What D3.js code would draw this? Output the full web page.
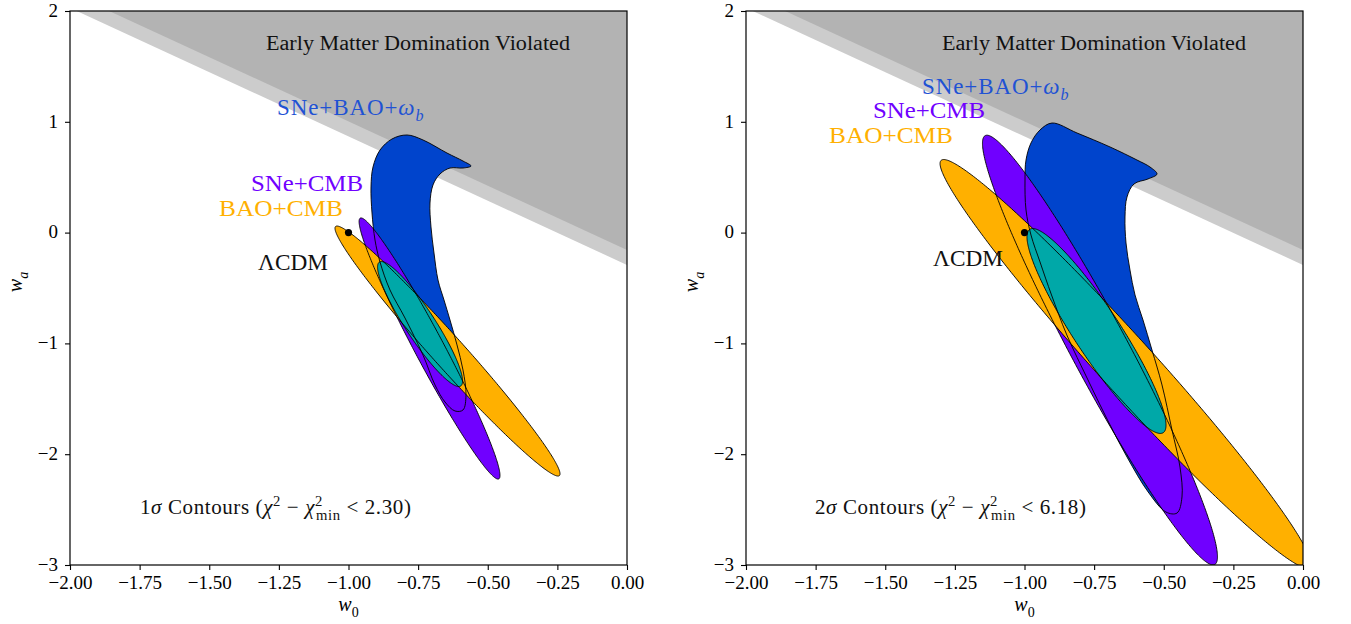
<!DOCTYPE html>
<html><head><meta charset="utf-8">
<script src="https://cdn.jsdelivr.net/npm/d3@7"></script>
<style>
body{margin:0;background:#fff}
svg{display:block}
text{font-family:"Liberation Serif","Times New Roman",serif}
</style>
</head><body>
<svg id="chart" width="1351" height="624"></svg>
<script>
// ---------------- DATA ----------------
const w0Ticks = [-2, -1.75, -1.5, -1.25, -1, -0.75, -0.5, -0.25, 0];
const waTicks = [-3, -2, -1, 0, 1, 2];
const sigmaLevel = ["1", "2"];
const deltaChi2 = [2.30, 6.18];
const deltaChi2Label = ["2.30", "6.18"];

// Early-matter-domination excluded region: wa > intercept + slope*w0
const emdSlope = -1.16;
const emdDarkIntercept = -0.157;
const emdLightIntercept = -0.292;

// Gaussian (Fisher) contours, per panel [1σ panel, 2σ panel]
const sneCmbW0 = [-0.709, -0.729];
const sneCmbWa = [-1.046, -1.060];
const sneCmbSigW0 = [0.1668, 0.1697];
const sneCmbSigWa = [0.777, 0.780];
const sneCmbRho = [-0.972, -0.962];

const baoCmbW0 = [-0.6445, -0.637];
const baoCmbWa = [-1.069, -1.185];
const baoCmbSigW0 = [0.2664, 0.268];
const baoCmbSigWa = [0.744, 0.742];
const baoCmbRho = [-0.982, -0.980];

const allW0 = [-0.743, -0.7415];
const allWa = [-0.825, -0.888];
const allSigW0 = [0.1006, 0.1004];
const allSigWa = [0.372, 0.372];
const allRho = [-0.911, -0.918];

// SNe+BAO+omega_b non-Gaussian contours (w0, wa)
const sneBaoContour1 = [[-0.790,0.881],[-0.7325,0.836],[-0.6463,0.718],[-0.5889,0.646],[-0.560,0.601],[-0.5889,0.583],[-0.6355,0.583],[-0.6715,0.529],[-0.6966,0.430],[-0.7074,0.267],[-0.7038,0.051],[-0.6930,-0.184],[-0.6786,-0.428],[-0.6571,-0.608],[-0.6355,-0.789],[-0.6104,-1.014],[-0.5889,-1.240],[-0.5781,-1.466],[-0.5889,-1.601],[-0.6176,-1.610],[-0.6535,-1.529],[-0.6894,-1.375],[-0.7325,-1.105],[-0.7971,-0.771],[-0.8510,-0.518],[-0.8869,-0.265],[-0.9048,-0.067],[-0.9156,0.177],[-0.9192,0.412],[-0.9120,0.592],[-0.8869,0.745],[-0.8438,0.845]];
const sneBaoContour2 = [[-0.9013,0.989],[-0.8115,0.899],[-0.6930,0.773],[-0.5961,0.655],[-0.5494,0.592],[-0.5242,0.529],[-0.5566,0.484],[-0.6068,0.439],[-0.6320,0.321],[-0.6391,0.141],[-0.6355,-0.094],[-0.6212,-0.338],[-0.6032,-0.563],[-0.5745,-0.789],[-0.5422,-1.060],[-0.5063,-1.375],[-0.4704,-1.782],[-0.4417,-2.116],[-0.4345,-2.386],[-0.4524,-2.531],[-0.4920,-2.522],[-0.5560,-2.341],[-0.6300,-2.034],[-0.7020,-1.691],[-0.7720,-1.330],[-0.8480,-0.924],[-0.9030,-0.563],[-0.9443,-0.265],[-0.9767,-0.022],[-0.9946,0.204],[-0.9982,0.475],[-0.9946,0.655],[-0.9767,0.809],[-0.9443,0.926]];
const sneBaoContours = [sneBaoContour1, sneBaoContour2];

const lcdmPoint = [-1, 0];

// ---------------- STYLE / LAYOUT ----------------
const col = {blue:"#0044cc", purple:"#7000ff", orange:"#ffb000", teal:"#00a8a8",
             dark:"#b3b3b3", light:"#cccccc", blueText:"#1f52d4"};
const panelX = [70, 746];
const panelY = 11;
const PW = 557, PH = 554;

// label placement (relative to panel origin)
const layout = [
  {emd:[196,39], sb:[207,104], sc:[293,180,"end"], bc:[273,205,"end"], lc:[188,259], ct:[70,503]},
  {emd:[196,39], sb:[176,83], sc:[127,107,"start"], bc:[83,132,"start"], lc:[187,255], ct:[69,503]}
];

const svg = d3.select("#chart");
const x = d3.scaleLinear().domain([-2, 0]).range([0, PW]);
const y = d3.scaleLinear().domain([-3, 2]).range([PH, 0]);
const line = d3.line().x(d => x(d[0])).y(d => y(d[1]));

function ellipse(c0, c1, sx, sy, rho, k) {
  const s = Math.sqrt(k), q = Math.sqrt(1 - rho * rho);
  return d3.range(0, 361, 1).map(a => {
    const t = a * Math.PI / 180;
    return [c0 + s * sx * Math.cos(t), c1 + s * sy * (rho * Math.cos(t) + q * Math.sin(t))];
  });
}

function rich(g, px, py, parts, size, color, anchor, len, spacing) {
  const t = g.append("text").attr("x", px).attr("y", py)
    .attr("font-size", size).attr("fill", color).attr("text-anchor", anchor || "start");
  if (len) t.attr("textLength", len).attr("lengthAdjust", "spacingAndGlyphs");
  if (spacing) t.attr("letter-spacing", spacing);
  let cur = 0;
  parts.forEach(p => {
    const s = t.append("tspan").text(p.t);
    if (p.i) s.attr("font-style", "italic");
    let target = 0;
    if (p.sub) { target = size * 0.28; s.attr("font-size", size * 0.7); }
    if (p.sup) { target = -size * 0.38; s.attr("font-size", size * 0.7); }
    if (target !== cur) { s.attr("dy", target - cur); cur = target; }
    if (p.dx) s.attr("dx", p.dx);
  });
  return t;
}

[0, 1].forEach(pi => {
  const g = svg.append("g").attr("transform", `translate(${panelX[pi]},${panelY})`);
  const cid = "clip" + pi;
  g.append("clipPath").attr("id", cid).append("rect").attr("width", PW).attr("height", PH);
  const plot = g.append("g").attr("clip-path", `url(#${cid})`);

  // excluded regions
  const region = b => [[-2.3, b + emdSlope * -2.3], [0.2, b + emdSlope * 0.2], [0.2, 3], [-2.3, 3]];
  plot.append("path").attr("d", line(region(emdLightIntercept)) + "Z").attr("fill", col.light);
  plot.append("path").attr("d", line(region(emdDarkIntercept)) + "Z").attr("fill", col.dark);

  const k = deltaChi2[pi];
  const shapes = [
    {pts: sneBaoContours[pi], fill: col.blue, smooth: true},
    {pts: ellipse(sneCmbW0[pi], sneCmbWa[pi], sneCmbSigW0[pi], sneCmbSigWa[pi], sneCmbRho[pi], k), fill: col.purple},
    {pts: ellipse(baoCmbW0[pi], baoCmbWa[pi], baoCmbSigW0[pi], baoCmbSigWa[pi], baoCmbRho[pi], k), fill: col.orange},
    {pts: ellipse(allW0[pi], allWa[pi], allSigW0[pi], allSigWa[pi], allRho[pi], k), fill: col.teal}
  ];
  const smoothLine = d3.line().x(d => x(d[0])).y(d => y(d[1])).curve(d3.curveCatmullRomClosed.alpha(0.5));
  const pathOf = s => s.smooth ? smoothLine(s.pts) : line(s.pts) + "Z";
  shapes.forEach(s => plot.append("path").attr("d", pathOf(s)).attr("fill", s.fill));
  shapes.forEach(s => plot.append("path").attr("d", pathOf(s)).attr("fill", "none")
    .attr("stroke", "#000").attr("stroke-width", 0.9));

  // LCDM point
  plot.append("circle").attr("cx", x(lcdmPoint[0])).attr("cy", y(lcdmPoint[1])).attr("r", 3.6).attr("fill", "#000");

  // texts
  const L = layout[pi];
  rich(g, L.emd[0], L.emd[1], [{t:"Early Matter Domination Violated"}], 20, "#111", "start", 304);
  rich(g, L.sb[0], L.sb[1], [{t:"SNe+BAO+"},{t:"ω",i:1},{t:"b",i:1,sub:1}], 23, col.blueText, "start", null, 0.9);
  rich(g, L.sc[0], L.sc[1], [{t:"SNe+CMB"}], 23, col.purple, L.sc[2], 112);
  rich(g, L.bc[0], L.bc[1], [{t:"BAO+CMB"}], 23, col.orange, L.bc[2], 124);
  rich(g, L.lc[0], L.lc[1], [{t:"ΛCDM"}], 23, "#111", "start", 70);
  rich(g, L.ct[0], L.ct[1], [
    {t: sigmaLevel[pi]}, {t:"σ", i:1}, {t:" Contours ("}, {t:"χ", i:1}, {t:"2", sup:1},
    {t:" − "}, {t:"χ", i:1}, {t:"2", sup:1}, {t:"min", sub:1, dx:-7}, {t:" < " + deltaChi2Label[pi] + ")"}
  ], 21, "#111", "start", null, 0.6);

  // axes
  const xa = g.append("g").attr("transform", `translate(0,${PH})`)
    .call(d3.axisBottom(x).tickValues(w0Ticks).tickFormat(d3.format(".2f")).tickSize(5).tickPadding(6));
  const ya = g.append("g")
    .call(d3.axisLeft(y).tickValues(waTicks).tickFormat(d => d < 0 ? "−" + Math.abs(d) : String(d)).tickSize(5).tickPadding(7));
  [xa, ya].forEach(a => {
    a.select(".domain").remove();
    a.selectAll("line").attr("stroke", "#000").attr("stroke-width", 1.1);
    a.selectAll("text").attr("font-size", 19).attr("fill", "#000")
      .attr("font-family", '"Liberation Serif","Times New Roman",serif');
  });
  ya.selectAll("text").attr("dy", "0.28em");
  g.append("rect").attr("width", PW).attr("height", PH).attr("fill", "none")
    .attr("stroke", "#000").attr("stroke-width", 1.2);

  // axis titles
  rich(g, PW / 2, PH + 46, [{t:"w", i:1}, {t:"0", sub:1}], 20, "#000", "middle");
  const yl = g.append("g").attr("transform", `translate(-48,${PH / 2 - 6}) rotate(-90)`);
  rich(yl, 0, 0, [{t:"w", i:1}, {t:"a", i:1, sub:1}], 20, "#000", "middle");
});
</script>
</body></html>
